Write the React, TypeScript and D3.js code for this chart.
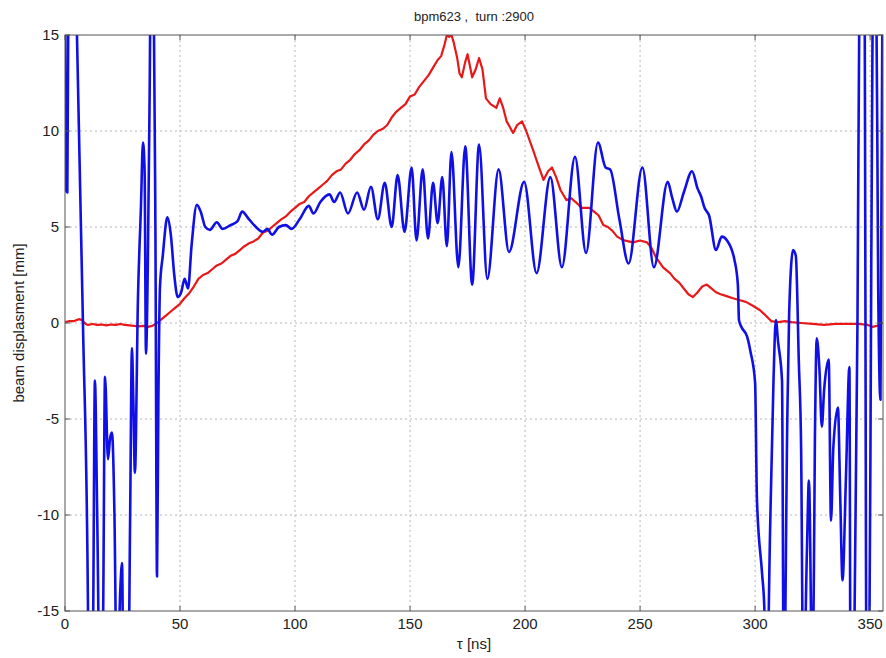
import React from "react";
import * as d3 from "d3";

// time axis of the red (centroid) trace, ns
const redT = [0, 2, 4, 6, 7.5, 9, 10, 12, 14, 16, 18, 20, 22, 24, 26, 28, 30, 32, 34, 36, 38, 40, 42, 44, 46, 48, 50, 52, 54, 56, 58, 60, 62, 64, 66, 68, 70, 72, 74, 76, 78, 80, 82, 84, 86, 88, 90, 92, 94, 96, 98, 100, 102, 104, 106, 108, 110, 112, 114, 116, 118, 120, 122, 124, 126, 128, 130, 132, 134, 136, 138, 140, 142, 144, 146, 148, 150, 152, 154, 156, 158, 160, 162, 163.5, 165, 166, 167, 168, 169, 170.5, 171.5, 172.5, 174, 175, 176, 177, 178.5, 180, 181.5, 183, 185, 187.5, 189, 190.5, 192, 194.8, 196.5, 198.7, 200.5, 203.5, 205.5, 208, 210, 211.7, 213.5, 215.5, 218, 220, 222, 224.5, 228, 230, 232, 234, 236, 238, 240, 243, 247, 250, 253, 255, 257, 260, 263, 265, 267, 269, 271, 273, 275, 277, 279, 281, 283, 285, 287.6, 290, 293, 296, 299, 302, 304.5, 307, 310, 313, 316, 320, 325, 330, 335, 340, 345, 349, 351, 353, 355.5];
const redV = [0.05, 0.1, 0.1, 0.2, 0.15, -0.05, -0.1, -0.05, -0.1, -0.08, -0.12, -0.08, -0.1, -0.05, -0.1, -0.12, -0.15, -0.18, -0.15, -0.2, -0.15, 0.0, 0.2, 0.4, 0.6, 0.8, 1.0, 1.3, 1.55, 1.9, 2.3, 2.5, 2.6, 2.8, 3.0, 3.1, 3.3, 3.5, 3.6, 3.8, 4.0, 4.15, 4.25, 4.4, 4.7, 4.8, 5.0, 5.2, 5.4, 5.55, 5.8, 6.0, 6.2, 6.3, 6.6, 6.8, 7.0, 7.2, 7.4, 7.7, 7.9, 8.0, 8.3, 8.5, 8.8, 9.0, 9.3, 9.5, 9.8, 10.0, 10.1, 10.3, 10.7, 11.0, 11.2, 11.4, 11.8, 11.9, 12.3, 12.6, 12.9, 13.3, 13.7, 13.9, 14.5, 15.0, 14.9, 15.0, 14.6, 13.8, 13.0, 12.8, 13.6, 14.0, 13.4, 12.8, 13.2, 13.8, 13.2, 11.7, 11.4, 11.2, 11.7, 11.2, 10.5, 9.9, 10.3, 10.5, 10.0, 9.0, 8.3, 7.45, 7.9, 8.1, 7.6, 6.9, 6.4, 6.5, 6.3, 6.0, 6.0, 5.8, 5.6, 5.1, 5.0, 4.8, 4.5, 4.3, 4.2, 4.3, 4.2, 3.9, 3.4, 2.9, 2.6, 2.3, 2.1, 1.8, 1.5, 1.35, 1.6, 1.9, 2.0, 1.8, 1.6, 1.5, 1.4, 1.3, 1.2, 1.1, 0.9, 0.68, 0.4, 0.1, 0.05, 0.1, 0.05, 0.0, -0.05, -0.1, -0.05, -0.05, -0.05, -0.1, -0.2, -0.15, 0.0];

// time axis of the blue (displacement) trace, ns
const blueT = [0, 0.3, 1.0, 1.6, 3, 5.2, 7.8, 10, 10.3, 11.5, 12.2, 13, 14, 15.2, 16.5, 17.4, 18.7, 19.6, 20.4, 21.5, 22.6, 24, 24.8, 25.5, 27.4, 28.3, 29.1, 29.7, 30.4, 31.7, 33, 33.9, 34.6, 35.2, 36, 36.8, 37.4, 38.5, 39.3, 40, 40.6, 41.3, 42.5, 44.5, 46, 47.5, 49, 50.5, 52, 53.5, 55, 57.3, 59, 61, 63, 66, 68.5, 72, 75, 77, 80, 83, 86, 88, 90, 93, 96, 98.5, 102, 106, 108, 111, 115, 117, 119.6, 123, 127, 130, 133, 136, 139, 142, 144.6, 147.6, 150.7, 152.8, 155.5, 157.8, 160, 162, 164, 166, 168, 171, 174, 177, 180, 183.6, 188.5, 193, 199.6, 205, 211, 216, 221.7, 226.5, 231.7, 235, 237, 241, 245, 251, 256, 262, 264, 266, 269, 272.6, 275, 276.5, 278, 280, 283, 285.5, 287.8, 291, 292.5, 293, 294, 296.5, 298, 300, 300.8, 303, 304, 305, 306.5, 308, 309, 310, 311.7, 312.5, 314, 314.8, 316.5, 317.7, 319, 320, 321, 322.5, 323.4, 325, 326, 326.8, 328, 329, 330, 332, 333, 334, 336, 337, 338, 339.5, 341, 341.5, 343, 344.5, 345.5, 346.5, 347.5, 348.5, 349.5, 350.5, 351.5, 352.5, 353.5, 354.5, 355.5];
const blueV = [20, 7.0, 6.8, 20, 25, 15, 0, -15, -20, -20, -16, -3.0, -10, -20, -16, -2.8, -7.1, -6, -5.7, -10, -20, -14, -12.5, -20, -20, -10.3, -1.3, -4, -7.8, 1.2, 6, 9.4, 8.0, -1.6, 3, 12, 20, 18, 5, -13.2, -4, 1.9, 3.5, 5.5, 4.6, 2.5, 1.35, 1.6, 2.3, 1.8, 4.0, 6.15, 5.8, 5.0, 4.85, 5.25, 4.9, 5.1, 5.3, 5.8, 5.4, 5.0, 4.75, 4.9, 4.6, 5.0, 5.1, 4.9, 5.4, 6.1, 5.7, 6.3, 6.7, 6.3, 6.8, 5.7, 6.8, 5.9, 7.1, 5.4, 7.3, 5.0, 7.7, 4.75, 8.1, 4.3, 8.0, 4.4, 7.3, 5.2, 7.6, 4.0, 8.9, 2.9, 9.2, 2.0, 9.3, 2.3, 8.0, 3.7, 7.35, 2.6, 7.6, 2.9, 8.65, 3.65, 9.4, 8.1, 8.0, 5.4, 3.1, 8.1, 2.9, 7.35, 6.5, 5.8, 6.8, 7.9, 7.0, 6.6, 6.0, 5.6, 3.8, 4.5, 4.3, 3.3, 2.0, 0.15, -0.2, -0.7, -1.5, -3.1, -9.2, -13, -14.8, -20, -10.9, -3, 0.15, -1, -3, -20, -5, 0.5, 3.8, 3.5, -2, -6.5, -20, -12, -8.2, -20, -6, -0.8, -2.5, -5.4, -3.5, -1.9, -10.3, -6.5, -4.4, -9, -13.4, -8, -2.3, -20, -18, 0, 20, 25, 20, -20, -20, 3, 20, 20, 2, -4, 20, 8, 20];

const xTicks = [0, 50, 100, 150, 200, 250, 300, 350];
const yTicks = [-15, -10, -5, 0, 5, 10, 15];

const W = 886;
const H = 658;
const M = { left: 65, right: 883, top: 35, bottom: 611 };
const FONT = "Arial, 'Liberation Sans', Helvetica, sans-serif";

export default function App() {
  const x = d3.scaleLinear().domain([0, 355.6]).range([M.left, M.right]);
  const y = d3.scaleLinear().domain([-15, 15]).range([M.bottom, M.top]);

  const redLine = d3
    .line<[number, number]>()
    .x((d) => x(d[0]))
    .y((d) => y(d[1]));

  // the displacement signal oscillates smoothly between samples
  const blueLine = d3
    .line<[number, number]>()
    .x((d) => x(d[0]))
    .y((d) => y(d[1]))
    .curve(d3.curveMonotoneX);

  const red = redT.map((t, i) => [t, redV[i]] as [number, number]);
  const blue = blueT.map((t, i) => [t, blueV[i]] as [number, number]);

  const tickLen = 5;

  return (
    <svg
      width={W}
      height={H}
      style={{ position: "absolute", left: 0, top: 0, background: "#fff" }}
      fontFamily={FONT}
    >
      <defs>
        <clipPath id="plotArea">
          <rect x={M.left} y={M.top} width={M.right - M.left} height={M.bottom - M.top} />
        </clipPath>
      </defs>
      <rect x={0} y={0} width={W} height={H} fill="#fff" />

      {/* grid */}
      <g stroke="#b8b8b8" strokeWidth={1} strokeDasharray="2,3">
        {xTicks.slice(1).map((t) => (
          <line key={"gx" + t} x1={x(t)} x2={x(t)} y1={M.top} y2={M.bottom} />
        ))}
        {yTicks.slice(1, -1).map((t) => (
          <line key={"gy" + t} x1={M.left} x2={M.right} y1={y(t)} y2={y(t)} />
        ))}
      </g>

      {/* traces */}
      <g clipPath="url(#plotArea)" fill="none" strokeLinejoin="round">
        <path d={redLine(red) || ""} stroke="#e81818" strokeWidth={2.2} />
        <path d={blueLine(blue) || ""} stroke="#1010e6" strokeWidth={2.6} />
      </g>

      {/* axes box and ticks */}
      <g stroke="#555" strokeWidth={1} fill="none">
        <rect x={M.left} y={M.top} width={M.right - M.left} height={M.bottom - M.top} />
        {xTicks.map((t) => (
          <g key={"tx" + t}>
            <line x1={x(t)} x2={x(t)} y1={M.bottom} y2={M.bottom - tickLen} />
            <line x1={x(t)} x2={x(t)} y1={M.top} y2={M.top + tickLen} />
          </g>
        ))}
        {yTicks.map((t) => (
          <g key={"ty" + t}>
            <line x1={M.left} x2={M.left + tickLen} y1={y(t)} y2={y(t)} />
            <line x1={M.right} x2={M.right - tickLen} y1={y(t)} y2={y(t)} />
          </g>
        ))}
      </g>

      {/* tick labels */}
      <g fontSize={15} fill="#222">
        {xTicks.map((t) => (
          <text key={"lx" + t} x={x(t)} y={M.bottom + 18} textAnchor="middle">
            {t}
          </text>
        ))}
        {yTicks.map((t) => (
          <text key={"ly" + t} x={M.left - 6} y={y(t) + 5} textAnchor="end">
            {t}
          </text>
        ))}
      </g>

      {/* labels */}
      <text x={(M.left + M.right) / 2} y={21} textAnchor="middle" fontSize={13} fill="#222">
        {"bpm623 ,\u00a0\u00a0turn :2900"}
      </text>
      <text x={(M.left + M.right) / 2} y={649} textAnchor="middle" fontSize={15} fill="#222">
        τ [ns]
      </text>
      <text
        transform={`translate(24, ${(M.top + M.bottom) / 2}) rotate(-90)`}
        textAnchor="middle"
        fontSize={15}
        fill="#222"
      >
        beam displasment [mm]
      </text>
    </svg>
  );
}
